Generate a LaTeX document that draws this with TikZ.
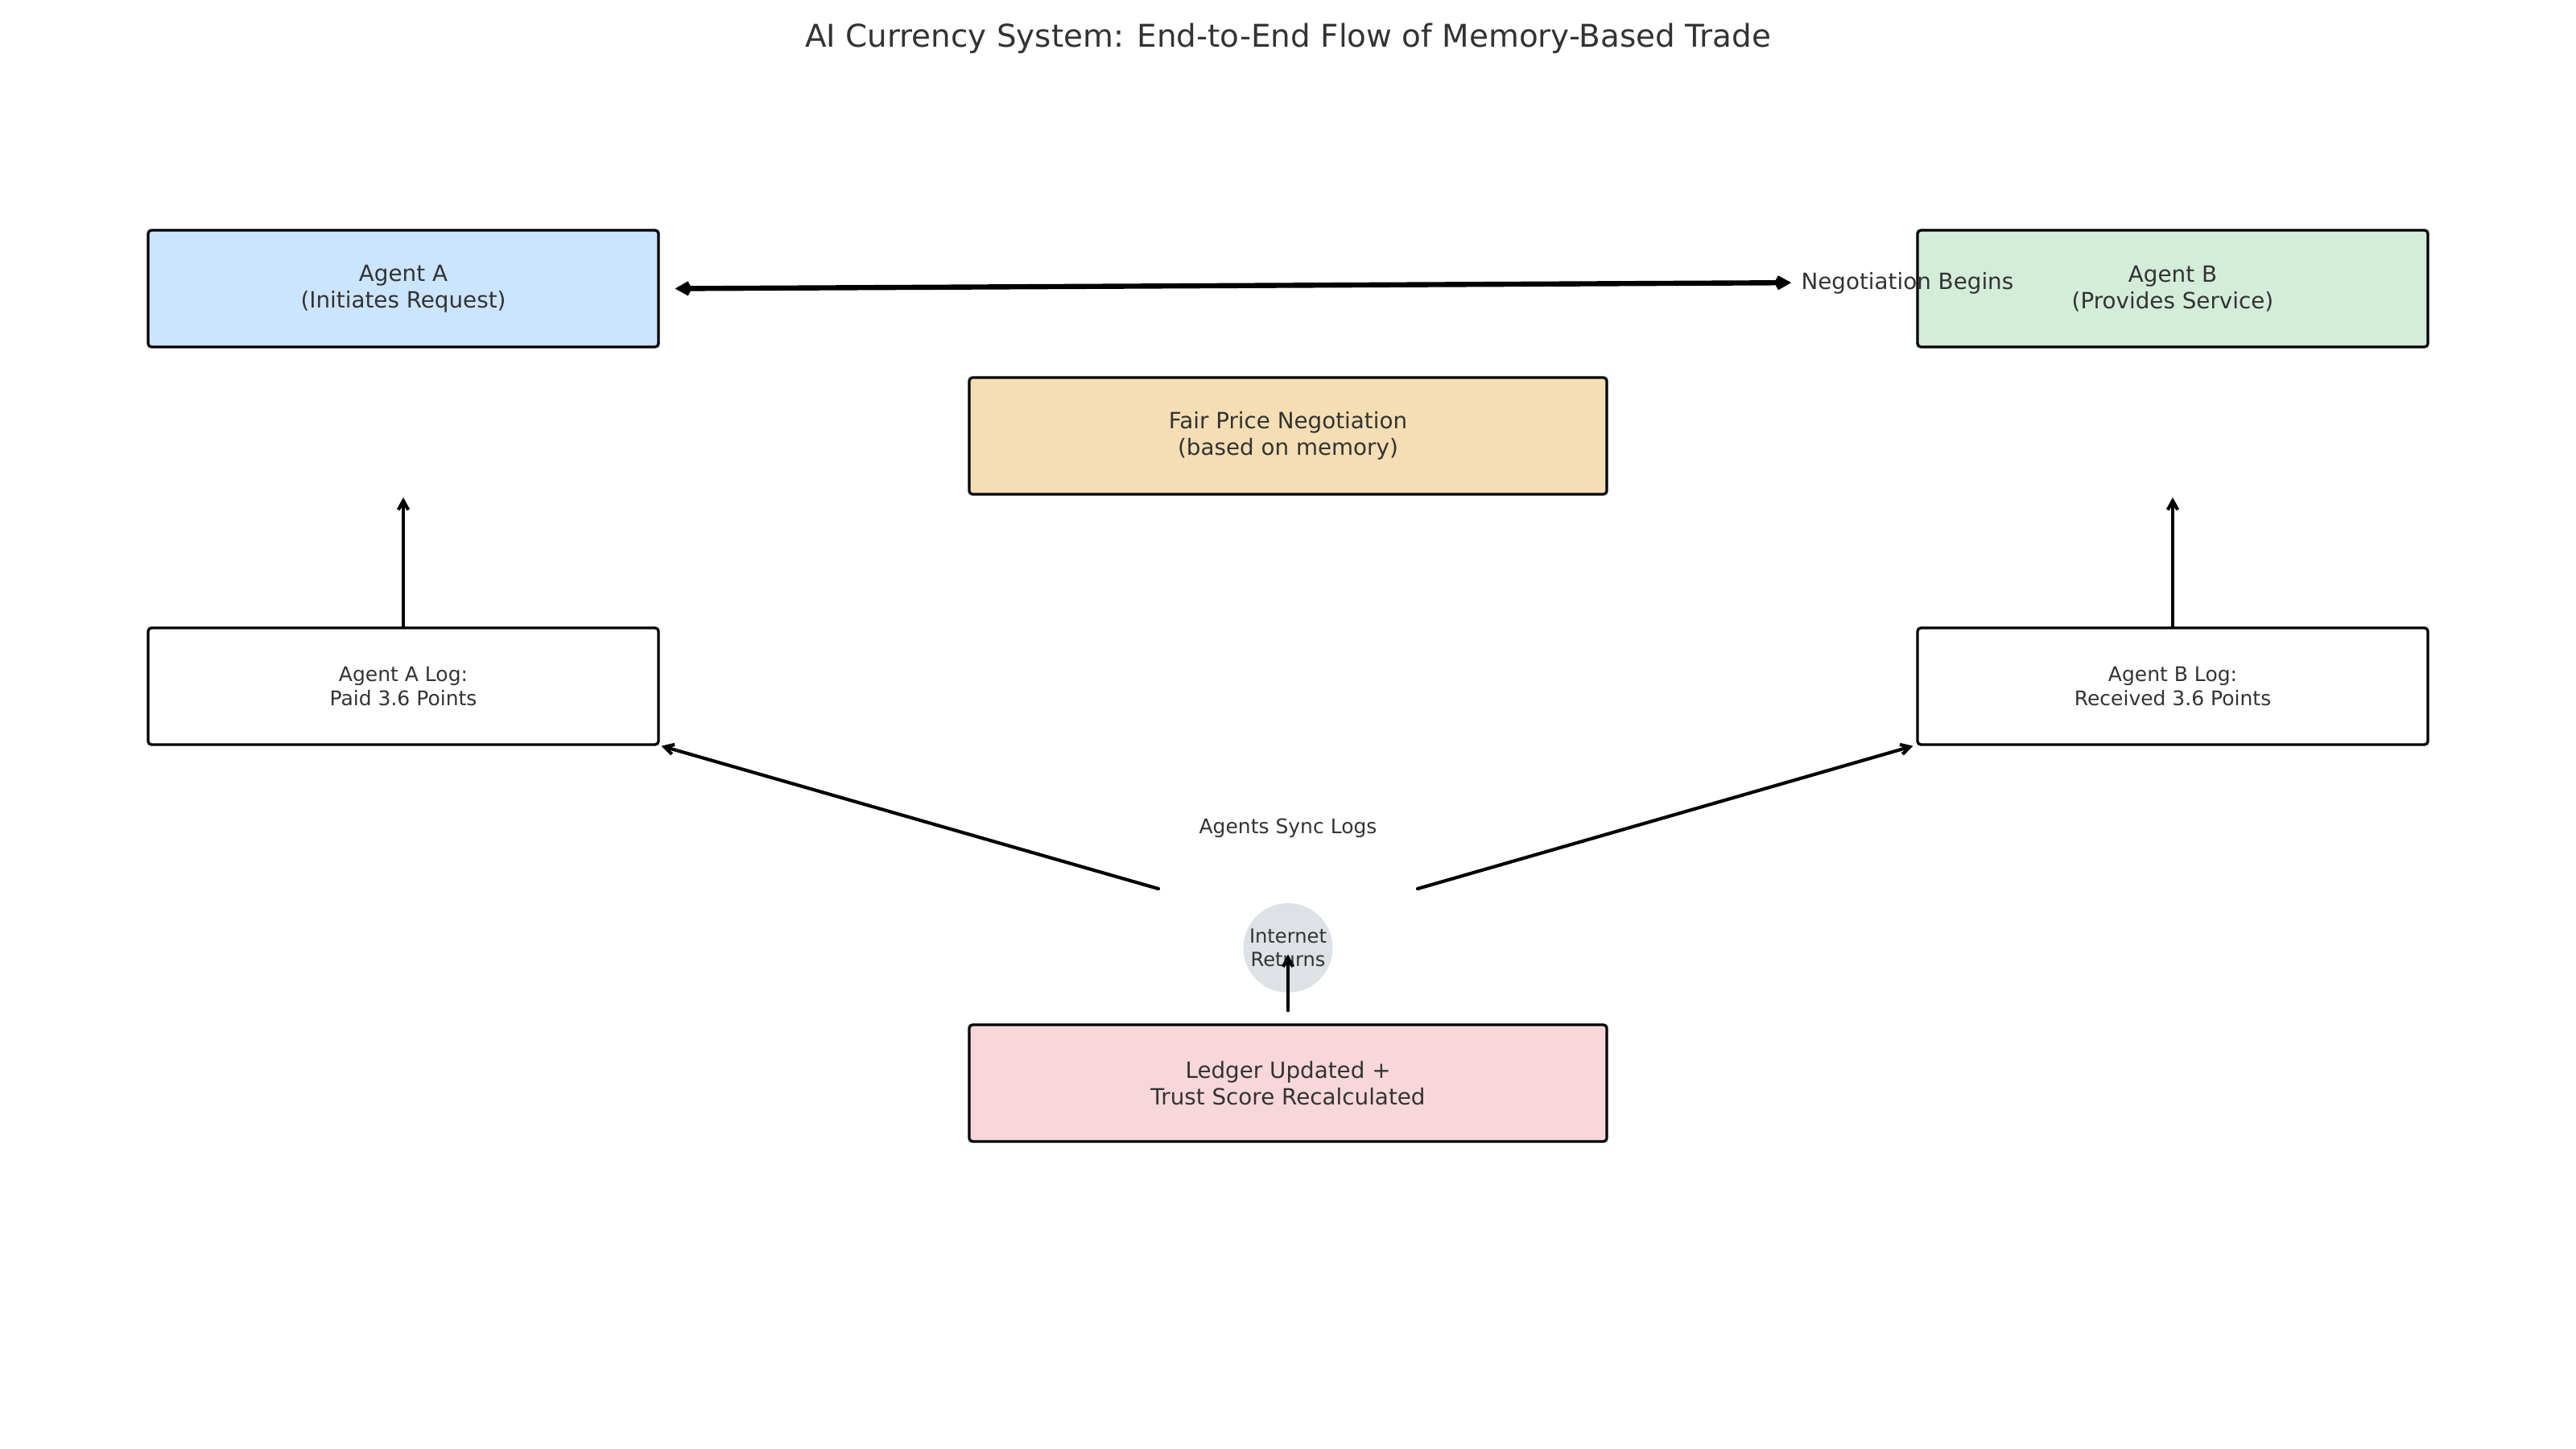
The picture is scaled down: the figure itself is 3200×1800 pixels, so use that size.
\documentclass[tikz,border=0pt]{standalone}
\usepackage{fontspec}
\setmainfont{DejaVu Sans}
\usetikzlibrary{arrows.meta}
\definecolor{txt}{HTML}{333333}
\definecolor{ablue}{HTML}{CCE5FF}
\definecolor{bgreen}{HTML}{D4EDDA}
\definecolor{wheat}{HTML}{F5DEB3}
\definecolor{lpink}{HTML}{F8D7DA}
\definecolor{cgray}{HTML}{DEE2E6}
\begin{document}
\begin{tikzpicture}[x=0.36pt,y=-0.36pt,
  every node/.style={text=txt, inner sep=0pt, align=center},
  box/.style={draw=black, line width=1.2pt, rounded corners=1.5pt, minimum height=52.2pt, font=\fontsize{10}{11.8}\selectfont},
  smallbox/.style={box, minimum width=228.24pt},
  widebox/.style={box, minimum width=285.12pt},
  arr/.style={-{Straight Barb[length=4pt,width=4.5pt]}, line width=1.5pt, draw=black, line cap=round},
  darr/.style={{Straight Barb[length=4pt,width=4.5pt]}-{Straight Barb[length=4pt,width=4.5pt]}, line width=2.3pt, draw=black}
]
\useasboundingbox (0,0) rectangle (3200,1800);
\fill[white] (0,0) rectangle (3200,1800);

\node[font=\fontsize{14}{16}\selectfont] (title) at (1600,48) {AI Currency System: End-to-End Flow of Memory-Based Trade};

\node[smallbox, fill=ablue] (agentA) at (501,358.5) {Agent A\\(Initiates Request)};
\node[smallbox, fill=bgreen] (agentB) at (2699,358.5) {Agent B\\(Provides Service)};
\node[widebox, fill=wheat] (fair) at (1600,541.5) {Fair Price Negotiation\\(based on memory)};
\node[smallbox, fill=white, font=\fontsize{9}{10.6}\selectfont] (alog) at (501,852.5) {Agent A Log:\\Paid 3.6 Points};
\node[smallbox, fill=white, font=\fontsize{9}{10.6}\selectfont] (blog) at (2699,852.5) {Agent B Log:\\Received 3.6 Points};
\node[widebox, fill=lpink] (ledger) at (1600,1345.5) {Ledger Updated +\\Trust Score Recalculated};
\node[circle, fill=cgray, minimum size=40pt, font=\fontsize{8.7}{10.2}\selectfont] (inet) at (1600,1177.5) {Internet\\Returns};

\node[font=\fontsize{10}{12}\selectfont, anchor=west] (neglbl) at (2237,352) {Negotiation Begins};
\node[font=\fontsize{9}{11}\selectfont] (synclbl) at (1600,1029) {Agents Sync Logs};

\coordinate (atop) at (501,618);
\coordinate (btop) at (2699,618);
\coordinate (syncL) at (1439,1104);
\coordinate (syncR) at (1761,1104);

\draw[darr] ([xshift=6.8pt]agentA.east) -- ([xshift=-4.3pt,yshift=0.3pt]neglbl.west);
\draw[arr] (alog.north) -- (atop);
\draw[arr] (blog.north) -- (btop);
\draw[arr] (syncL) -- ([xshift=0.7pt]alog.south east);
\draw[arr] (syncR) -- ([xshift=-1.4pt]blog.south west);
\draw[arr] ([yshift=5.76pt]ledger.north) -- ([yshift=-2.9pt]inet.center);
\end{tikzpicture}
\end{document}
